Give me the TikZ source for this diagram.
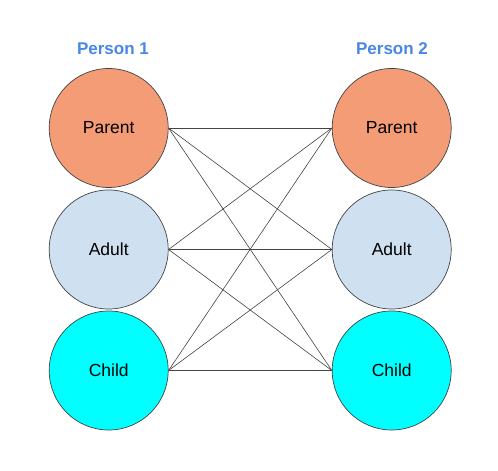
\documentclass[tikz,border=0pt]{standalone}
\usepackage{fontspec}
\setmainfont{Liberation Sans}
\definecolor{parentc}{HTML}{F39C76}
\definecolor{adultc}{HTML}{CFE0F1}
\definecolor{childc}{HTML}{00FFFF}
\definecolor{titlec}{HTML}{4A86E8}
\definecolor{edgec}{HTML}{444444}
\begin{document}
\begin{tikzpicture}[x=1pt,y=-1pt,
  role/.style={circle,draw=edgec,line width=0.7pt,minimum size=119pt,inner sep=0pt,
    font=\fontsize{17.5}{20}\selectfont},
  title/.style={font=\fontsize{17}{20}\selectfont\bfseries,text=titlec,inner sep=0pt},
  link/.style={draw=edgec,line width=0.6pt}]
\fill[white] (0,0) rectangle (498,471);
\useasboundingbox (0,0) rectangle (498,471);
\node[title] (t1) at (113,49) {Person 1};
\node[title] (t2) at (392,49) {Person 2};
\node[role,fill=parentc] (lp) at (108.7,128) {Parent};
\node[role,fill=adultc]  (la) at (108.7,249.5) {Adult};
\node[role,fill=childc]  (lc) at (108.7,370.5) {Child};
\node[role,fill=parentc] (rp) at (391.7,128) {Parent};
\node[role,fill=adultc]  (ra) at (391.7,249.5) {Adult};
\node[role,fill=childc]  (rc) at (391.7,370.5) {Child};
\foreach \a in {lp,la,lc}{
  \foreach \b in {rp,ra,rc}{
    \draw[link] (\a.east) -- (\b.west);
  }
}
\end{tikzpicture}
\end{document}
